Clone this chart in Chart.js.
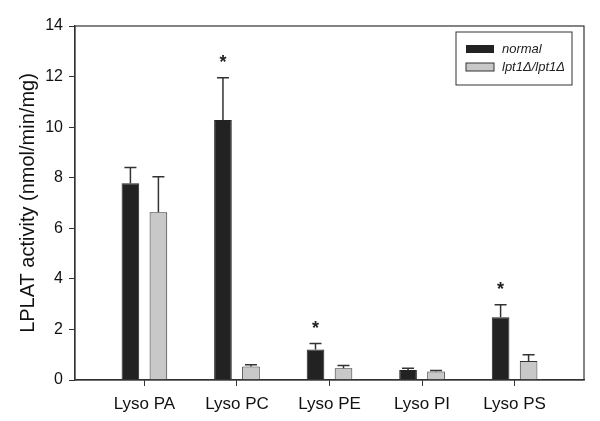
<!DOCTYPE html>
<html>
<head>
<meta charset="utf-8">
<script src="https://cdn.jsdelivr.net/npm/chart.js@4"></script>
<style>
  html, body { margin: 0; padding: 0; background: #fff; }
  #wrap { width: 600px; height: 421px; }
</style>
</head>
<body>
<div id="wrap"><canvas id="myChart"></canvas></div>
<script>
const categories = ['Lyso PA', 'Lyso PC', 'Lyso PE', 'Lyso PI', 'Lyso PS'];
const normal = [7.78, 10.28, 1.21, 0.40, 2.48];
const normalErr = [0.62, 1.67, 0.23, 0.06, 0.50];
const mutant = [6.63, 0.53, 0.46, 0.34, 0.75];
const mutantErr = [1.41, 0.07, 0.11, 0.04, 0.25];
const starred = [false, true, true, false, true];
const yTicks = [0, 2, 4, 6, 8, 10, 12, 14];

const font = 'Liberation Sans, Arial, sans-serif';

function points(vals) {
    return vals.map((v, i) => ({ x: i, y: v }));
}

// error bars (upward only), asterisks, frame and boxed legend
const extras = {
    id: 'extras',
    afterDatasetsDraw(chart) {
        const ctx = chart.ctx;
        const y = chart.scales.y;
        const errs = [normalErr, mutantErr];
        const vals = [normal, mutant];
        ctx.save();
        ctx.strokeStyle = '#333';
        ctx.lineWidth = 1.5;
        for (let d = 0; d < 2; d++) {
            const meta = chart.getDatasetMeta(d);
            meta.data.forEach((bar, i) => {
                const top = y.getPixelForValue(vals[d][i] + errs[d][i]);
                ctx.beginPath();
                ctx.moveTo(bar.x, bar.y);
                ctx.lineTo(bar.x, top);
                ctx.moveTo(bar.x - 6, top);
                ctx.lineTo(bar.x + 6, top);
                ctx.stroke();
            });
        }
        // asterisks above black bars
        ctx.fillStyle = '#222';
        ctx.font = 'bold 18px ' + font;
        ctx.textAlign = 'center';
        ctx.textBaseline = 'middle';
        const meta0 = chart.getDatasetMeta(0);
        starred.forEach((s, i) => {
            if (!s) return;
            const top = y.getPixelForValue(normal[i] + normalErr[i]);
            ctx.fillText('*', meta0.data[i].x, top - 15);
        });
        // frame
        const a = chart.chartArea;
        ctx.strokeStyle = '#333';
        ctx.lineWidth = 1.2;
        ctx.strokeRect(a.left, a.top, a.right - a.left, a.bottom - a.top);
        // legend
        const lx = a.right - 128, ly = a.top + 6;
        ctx.lineWidth = 1;
        ctx.strokeRect(lx, ly, 116, 53);
        ctx.fillStyle = '#222';
        ctx.fillRect(lx + 10, ly + 13, 28, 8);
        ctx.fillStyle = '#c8c8c8';
        ctx.fillRect(lx + 10, ly + 31, 28, 8);
        ctx.strokeRect(lx + 10, ly + 31, 28, 8);
        ctx.fillStyle = '#222';
        ctx.font = 'italic 13px ' + font;
        ctx.textAlign = 'left';
        ctx.fillText('normal', lx + 46, ly + 17);
        ctx.fillText('lpt1\u0394/lpt1\u0394', lx + 46, ly + 35);
        ctx.restore();
    }
};

const ctx = document.getElementById('myChart').getContext('2d');
const myChart = new Chart(ctx, {
    type: 'bar',
    data: {
        datasets: [{
            label: 'normal',
            data: points(normal),
            backgroundColor: '#222',
            borderColor: '#222',
            borderWidth: 1,
            categoryPercentage: 0.605,
            barPercentage: 0.63
        },
        {
            label: 'lpt1\u0394/lpt1\u0394',
            data: points(mutant),
            backgroundColor: '#c8c8c8',
            borderColor: '#333',
            borderWidth: 1,
            categoryPercentage: 0.605,
            barPercentage: 0.63
        }]
    },
    options: {
        responsive: true,
        maintainAspectRatio: false,
        animation: false,
        layout: { padding: { top: 26, right: 16, left: 0, bottom: 0 } },
        plugins: {
            legend: { display: false },
            tooltip: { enabled: false }
        },
        scales: {
            x: {
                type: 'linear',
                min: -0.75,
                max: 4.75,
                offset: false,
                afterBuildTicks: (s) => { s.ticks = categories.map((c, i) => ({ value: i })); },
                afterFit: (s) => { s.height = 41; },
                ticks: {
                    callback: (v) => categories[v],
                    color: '#111',
                    font: { family: font, size: 17 },
                    padding: 8,
                    maxRotation: 0
                },
                grid: { offset: false, drawOnChartArea: false, tickLength: 6, color: '#333' },
                border: { color: '#333', width: 1.2 }
            },
            y: {
                min: 0,
                max: 14,
                afterBuildTicks: (s) => { s.ticks = yTicks.map(v => ({ value: v })); },
                afterFit: (s) => { s.width = 75; },
                ticks: {
                    color: '#111',
                    font: { family: font, size: 16 },
                    padding: 6
                },
                grid: { drawOnChartArea: false, tickLength: 6, color: '#333' },
                border: { color: '#333', width: 1.2 },
                title: {
                    display: true,
                    text: 'LPLAT activity (nmol/min/mg)',
                    color: '#111',
                    font: { family: font, size: 20 },
                    padding: { top: 16, bottom: 0 }
                }
            }
        }
    },
    plugins: [extras]
});
</script>
</body>
</html>
